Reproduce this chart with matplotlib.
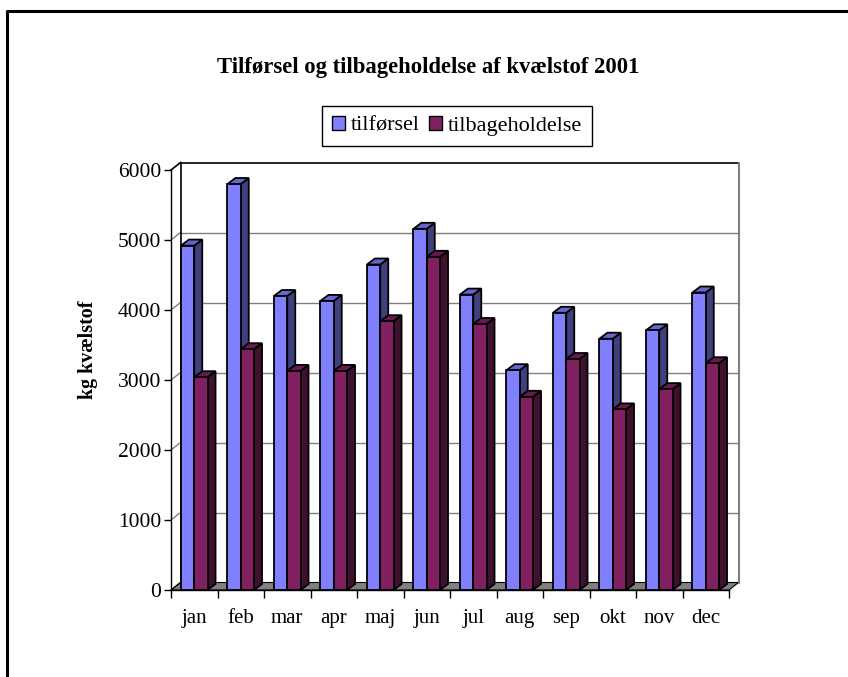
import matplotlib
matplotlib.use('Agg')
import matplotlib.pyplot as plt
from matplotlib.patches import Patch, Polygon
from matplotlib.lines import Line2D

months = ['jan', 'feb', 'mar', 'apr', 'maj', 'jun', 'jul', 'aug', 'sep', 'okt', 'nov', 'dec']
tilfoersel = [4920, 5800, 4200, 4130, 4650, 5160, 4220, 3140, 3960, 3590, 3710, 4250]
tilbagehold = [3040, 3440, 3130, 3130, 3840, 4760, 3800, 2760, 3300, 2580, 2870, 3240]
series_names = ['tilførsel', 'tilbageholdelse']

# colours: front, top, side
blue = ('#8080FF', '#6666CC', '#40407F')
purple = ('#802060', '#661A4D', '#40102F')

plt.rcParams['font.family'] = 'Liberation Serif'

W, H = 848, 677
fig = plt.figure(figsize=(W / 100, H / 100), dpi=100)

# front plane of the 3d box in pixels
x0, x1, y0, y1 = 171, 729, 590, 170
ax = fig.add_axes([x0 / W, 1 - y0 / H, (x1 - x0) / W, (y0 - y1) / H])
n = len(months)
ymax = 6000
ax.set_xlim(0, n)
ax.set_ylim(0, ymax)

# depth offsets in data units
px_x = n / (x1 - x0)
px_y = ymax / (y0 - y1)
wdx, wdy = 9.5 * px_x, 7.5 * px_y   # walls
bdx, bdy = 8 * px_x, 6 * px_y       # bars

# floor
ax.add_patch(Polygon([(0, 0), (n, 0), (n + wdx, wdy), (wdx, wdy)], closed=True,
                     facecolor='#808080', edgecolor='black', lw=0.8, clip_on=False, zorder=1))

# gridlines on back and side wall
for v in range(1000, ymax, 1000):
    ax.plot([wdx, n + wdx], [v + wdy, v + wdy], color='#808080', lw=1, clip_on=False, zorder=1)
    ax.plot([0, wdx], [v, v + wdy], color='#808080', lw=1, clip_on=False, zorder=1)
# wall edges
ax.plot([wdx, wdx, n + wdx], [wdy, ymax + wdy, ymax + wdy], color='black', lw=1.2, clip_on=False, zorder=1)
ax.plot([n + wdx, n + wdx], [wdy, ymax + wdy], color='#808080', lw=1.5, clip_on=False, zorder=1)
ax.plot([0, wdx], [ymax, ymax + wdy], color='black', lw=1.2, clip_on=False, zorder=1)
ax.plot([0, wdx], [0, wdy], color='black', lw=0.8, clip_on=False, zorder=1)


def bar3d(x, w, h, cols):
    front, top, side = cols
    kw = dict(closed=True, edgecolor='black', lw=1.3, clip_on=False, zorder=3)
    ax.add_patch(Polygon([(x + w, 0), (x + w + bdx, bdy), (x + w + bdx, h + bdy), (x + w, h)],
                         facecolor=side, **kw))
    ax.add_patch(Polygon([(x, h), (x + w, h), (x + w + bdx, h + bdy), (x + bdx, h + bdy)],
                         facecolor=top, **kw))
    ax.add_patch(Polygon([(x, 0), (x + w, 0), (x + w, h), (x, h)], facecolor=front, **kw))


bw = 1 / 3.5
off = 0.75 / 3.5
for i in range(n):
    bar3d(i + off, bw, tilfoersel[i], blue)
    bar3d(i + off + bw, bw, tilbagehold[i], purple)

# axes
for s in ['top', 'right']:
    ax.spines[s].set_visible(False)
ax.spines['left'].set_linewidth(1.0)
ax.spines['bottom'].set_linewidth(1.0)
ax.patch.set_visible(False)
ax.set_yticks(range(0, ymax + 1, 1000))
ax.set_xticks(range(0, n + 1))
ax.set_xticklabels([])
ax.set_xticks([i + 0.5 for i in range(n)], minor=True)
ax.set_xticklabels(months, minor=True)
ax.tick_params(axis='x', which='major', length=6, width=1, direction='out')
ax.tick_params(axis='x', which='minor', length=0, pad=14, labelsize=15)
ax.tick_params(axis='y', length=5, width=1, pad=2, labelsize=15.5)

fig.text(88 / W, 1 - 350 / H, 'kg kvælstof', rotation=90, ha='center', va='center',
         fontsize=14.4, fontweight='bold')
fig.text(428 / W, 1 - 67 / H, 'Tilførsel og tilbageholdelse af kvælstof 2001',
         ha='center', va='center', fontsize=16.3, fontweight='bold')

handles = [Patch(facecolor=blue[0], edgecolor='black', label=series_names[0]),
           Patch(facecolor=purple[0], edgecolor='black', label=series_names[1])]
leg = fig.legend(handles=handles, loc='center', bbox_to_anchor=(457 / W, 1 - 126 / H), ncol=2,
                 fontsize=16, frameon=True, fancybox=False, edgecolor='black', framealpha=1,
                 handlelength=0.6, handleheight=0.6, handletextpad=0.25, columnspacing=0.4,
                 borderpad=0.45, borderaxespad=0)
leg.get_frame().set_linewidth(1.0)

# outer border (only left and top fall inside the picture)
fig.add_artist(Line2D([7 / W, 7 / W, 1], [0, 1 - 11 / H, 1 - 11 / H], color='black', lw=2.2,
                      transform=fig.transFigure))

fig.savefig('out.png', dpi=100)
